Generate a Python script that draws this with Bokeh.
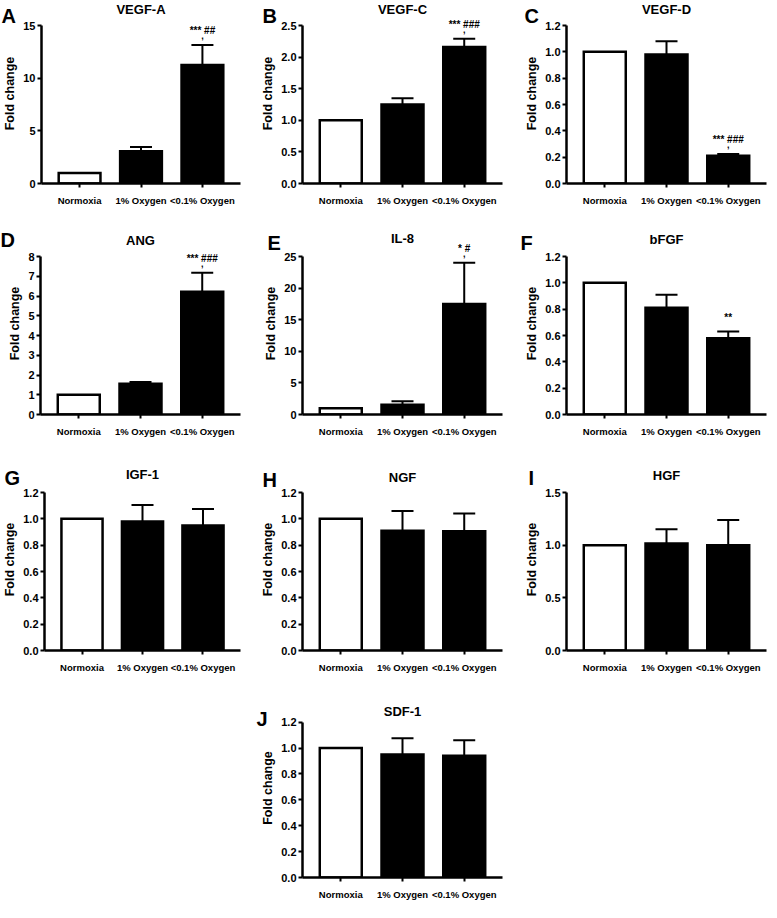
from bokeh.plotting import figure
from bokeh.models import (FactorRange, Range1d, FixedTicker, PrintfTickFormatter, Whisker,
                          TeeHead, ColumnDataSource, LabelSet, Spacer, Title)
from bokeh.layouts import row, column
from bokeh.embed import file_html
from bokeh.resources import INLINE
from bokeh.core.properties import value

conditions = ["Normoxia", "1% Oxygen", "<0.1% Oxygen"]

vegf_a = [1.0, 3.05, 11.25]
vegf_a_err = [0.0, 0.42, 1.9]
vegf_a_ticks = [0, 5, 10, 15]

vegf_c = [1.0, 1.25, 2.16]
vegf_c_err = [0.0, 0.10, 0.13]
vegf_c_ticks = [0.0, 0.5, 1.0, 1.5, 2.0, 2.5]

vegf_d = [1.0, 0.98, 0.21]
vegf_d_err = [0.0, 0.10, 0.015]
tick_12 = [0.0, 0.2, 0.4, 0.6, 0.8, 1.0, 1.2]

ang = [1.0, 1.56, 6.22]
ang_err = [0.0, 0.08, 0.96]
ang_ticks = [0, 1, 2, 3, 4, 5, 6, 7, 8]

il8 = [1.0, 1.55, 17.5]
il8_err = [0.0, 0.55, 6.5]
il8_ticks = [0, 5, 10, 15, 20, 25]

bfgf = [1.0, 0.81, 0.58]
bfgf_err = [0.0, 0.10, 0.05]

igf1 = [1.0, 0.98, 0.95]
igf1_err = [0.0, 0.125, 0.125]

ngf = [1.0, 0.91, 0.905]
ngf_err = [0.0, 0.15, 0.135]

hgf = [1.0, 1.015, 1.0]
hgf_err = [0.0, 0.135, 0.24]
hgf_ticks = [0.0, 0.5, 1.0, 1.5]

sdf1 = [1.0, 0.95, 0.94]
sdf1_err = [0.0, 0.125, 0.12]

SANS = "Liberation Sans"

COLW = 256
FRAME_W = 200
AXIS_H = 158
ROW_T = [3, 9, 9, 2]
ROW_HR = [22, 24, 24, 24]
ROW_B = [40, 45, 46, 22]
COL_L = [40, 46, 54]
PAD = 0.12


def label_set(p, x, y, text, y_off, size):
    src = ColumnDataSource(dict(x=[x], y=[y], t=[text]))
    p.add_layout(LabelSet(x="x", y="y", text="t", source=src, y_offset=y_off,
                          text_align="center", text_baseline="alphabetic",
                          text_font=value(SANS), text_font_style="bold",
                          text_font_size=size, text_color="black"))


def panel(letter, title, vals, errs, ticks, fmt, annot, comma, r, c,
          letter_dx, letter_up, title_up):
    L = COL_L[c]
    R = COLW - L - FRAME_W
    T, HR, B = ROW_T[r], ROW_HR[r], ROW_B[r]
    ymax = ticks[-1]
    letter_title = Title(text=letter, align="left", offset=letter_dx,
                         standoff=-2 * (HR - letter_up + 10),
                         text_font=SANS, text_font_size="20px",
                         text_font_style="bold", text_color="black")
    p = figure(x_range=FactorRange(*conditions, range_padding=PAD,
                                   range_padding_units="absolute"),
               y_range=Range1d(0, ymax * (1 + HR / AXIS_H)),
               width=COLW, height=T + AXIS_H + HR + B, output_backend="svg",
               toolbar_location=None, title=letter_title,
               min_border_left=L, min_border_right=R,
               min_border_top=T, min_border_bottom=B)
    p.outline_line_color = None
    p.xgrid.grid_line_color = None
    p.ygrid.grid_line_color = None

    label_set(p, conditions[1], ymax, title, title_up, "13px")

    src = ColumnDataSource(dict(x=conditions, top=vals,
                                fill=["white", "black", "black"]))
    p.vbar(x="x", top="top", width=0.68, source=src, fill_color="fill",
           line_color="black", line_width=2.5, line_join="miter")

    xs = [cnd for cnd, e in zip(conditions, errs) if e > 0]
    lo = [v for v, e in zip(vals, errs) if e > 0]
    hi = [v + e for v, e in zip(vals, errs) if e > 0]
    wsrc = ColumnDataSource(dict(x=xs, lower=lo, upper=hi))
    w = Whisker(base="x", lower="lower", upper="upper", source=wsrc,
                dimension="height", line_width=2, line_color="black",
                lower_head=None,
                upper_head=TeeHead(size=22, line_width=2, line_color="black"))
    p.add_layout(w)

    if annot:
        top = vals[2] + errs[2]
        label_set(p, conditions[2], top, annot, 11, "10px")
        if comma:
            label_set(p, conditions[2], top, ",", 6, "9px")

    p.yaxis.bounds = (0, ymax)
    p.yaxis.ticker = FixedTicker(ticks=ticks)
    p.yaxis.formatter = PrintfTickFormatter(format=fmt)
    p.yaxis.axis_label = "Fold change"
    p.yaxis.axis_label_text_font = SANS
    p.yaxis.axis_label_text_font_style = "bold"
    p.yaxis.axis_label_text_font_size = "12.5px"
    p.yaxis.axis_label_text_color = "black"
    p.yaxis.axis_label_standoff = 3
    for ax in (p.xaxis, p.yaxis):
        ax.axis_line_width = 2.5
        ax.axis_line_color = "black"
        ax.major_tick_line_width = 2
        ax.major_tick_line_color = "black"
        ax.major_tick_out = 4
        ax.major_tick_in = 0
        ax.minor_tick_line_color = None
        ax.major_label_text_font = SANS
        ax.major_label_text_font_style = "bold"
        ax.major_label_text_color = "black"
    p.yaxis.major_label_text_font_size = "11px"
    p.xaxis.major_label_text_font_size = "9.5px"
    p.yaxis.major_label_standoff = 2
    p.xaxis.major_label_standoff = 7
    return p


pA = panel("A", "VEGF-A", vegf_a, vegf_a_err, vegf_a_ticks, "%d", "*** ##", True, 0, 0, -40, 9, 12)
pB = panel("B", "VEGF-C", vegf_c, vegf_c_err, vegf_c_ticks, "%.1f", "*** ###", True, 0, 1, -40, 9, 12)
pC = panel("C", "VEGF-D", vegf_d, vegf_d_err, tick_12, "%.1f", "*** ###", True, 0, 2, -42, 9, 12)
pD = panel("D", "ANG", ang, ang_err, ang_ticks, "%d", "*** ###", True, 1, 0, -40, 16, 12)
pE = panel("E", "IL-8", il8, il8_err, il8_ticks, "%d", "* #", True, 1, 1, -35, 13, 14)
pF = panel("F", "bFGF", bfgf, bfgf_err, tick_12, "%.1f", "**", False, 1, 2, -46, 13, 13)
pG = panel("G", "IGF-1", igf1, igf1_err, tick_12, "%.1f", "", False, 2, 0, -40, 14, 14)
pH = panel("H", "NGF", ngf, ngf_err, tick_12, "%.1f", "", False, 2, 1, -40, 12, 11)
pI = panel("I", "HGF", hgf, hgf_err, hgf_ticks, "%.1f", "", False, 2, 2, -38, 14, 13)
pJ = panel("J", "SDF-1", sdf1, sdf1_err, tick_12, "%.1f", "", False, 3, 1, -46, 3, 6)

layout = column(
    row(pA, pB, pC),
    row(pD, pE, pF),
    row(pG, pH, pI),
    row(Spacer(width=COLW, height=pJ.height), pJ),
)

with open("out.html", "w") as f:
    f.write(file_html(layout, INLINE))
